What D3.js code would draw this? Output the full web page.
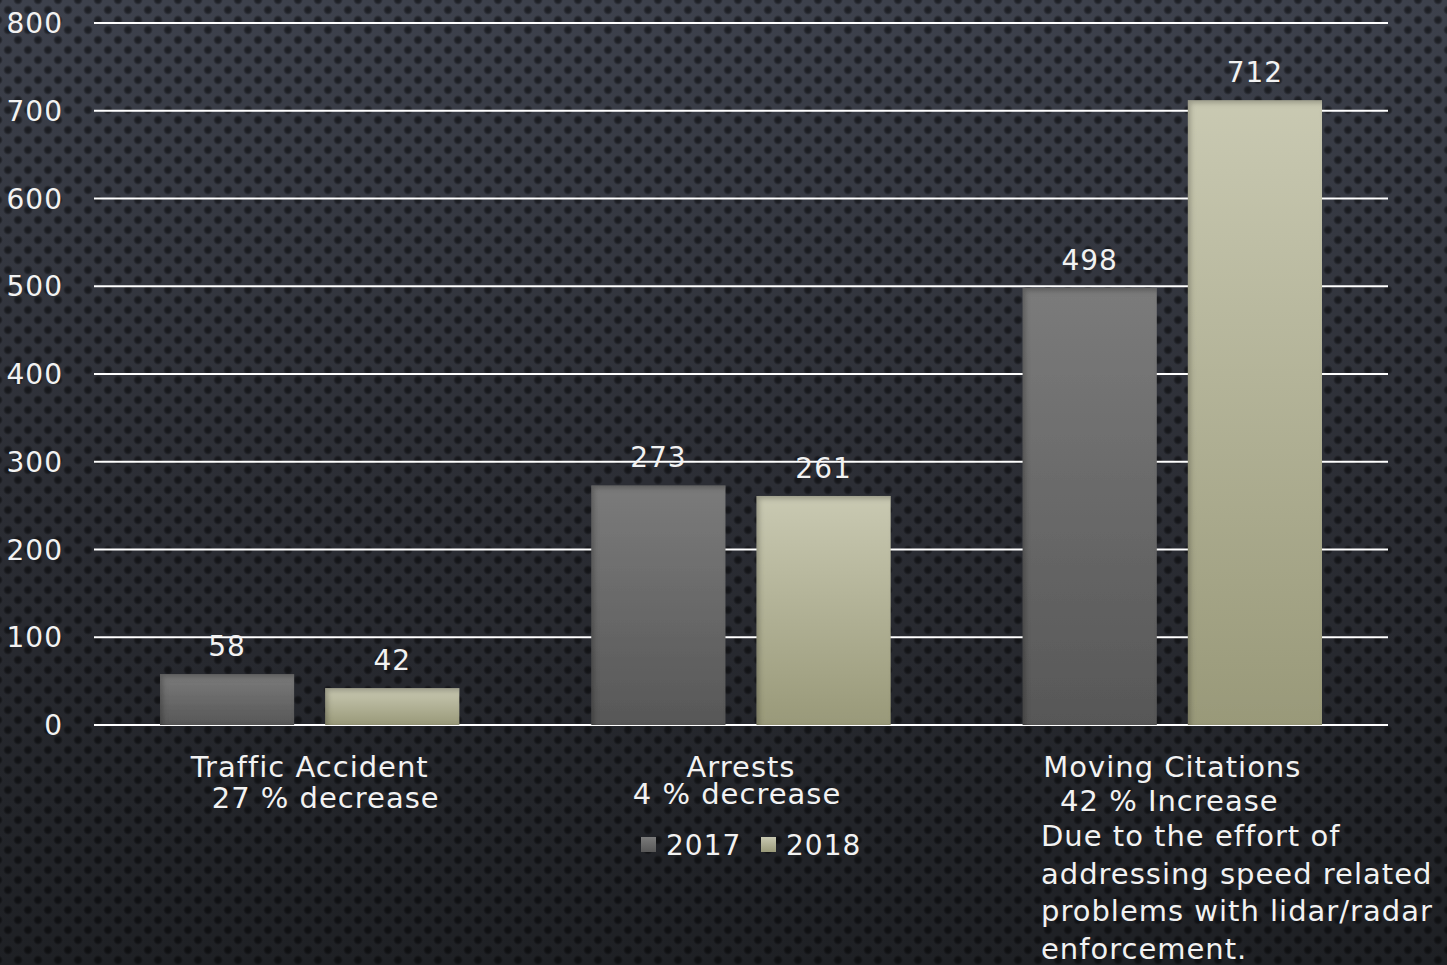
<!DOCTYPE html>
<html>
<head>
<meta charset="utf-8">
<script src="https://cdn.jsdelivr.net/npm/d3@7"></script>
<style>
  html, body { margin: 0; padding: 0; background: #26282e; }
  svg { display: block; }
  text { font-family: "DejaVu Sans", sans-serif; fill: #f2f2f2; letter-spacing: 1px; }
</style>
</head>
<body>
<div id="chart"></div>
<script>
// Chart data
const categories = ["Traffic Accident", "Arrests", "Moving Citations"];
const years = ["2017", "2018"];
const values2017 = [58, 273, 498];
const values2018 = [42, 261, 712];
const subLabels = ["27 % decrease", "4 % decrease", "42 % Increase"];
const noteLines = ["Due to the effort of", "addressing speed related", "problems with lidar/radar", "enforcement."];
const yTicks = [0, 100, 200, 300, 400, 500, 600, 700, 800];

const width = 1447, height = 965;
const plot = { left: 94, right: 1388, top: 23, bottom: 725 };

const svg = d3.select("#chart").append("svg")
    .attr("width", width)
    .attr("height", height);

const defs = svg.append("defs");

// background gradient + perforated dot pattern
const bg = defs.append("linearGradient").attr("id", "bg").attr("x1", 0).attr("y1", 0).attr("x2", 0).attr("y2", 1);
bg.append("stop").attr("offset", "0%").attr("stop-color", "#3d414c");
bg.append("stop").attr("offset", "50%").attr("stop-color", "#2c2e35");
bg.append("stop").attr("offset", "100%").attr("stop-color", "#1e2024");

const dotGrad = defs.append("radialGradient").attr("id", "dotg");
dotGrad.append("stop").attr("offset", "0%").attr("stop-color", "#000").attr("stop-opacity", 0.55);
dotGrad.append("stop").attr("offset", "55%").attr("stop-color", "#000").attr("stop-opacity", 0.45);
dotGrad.append("stop").attr("offset", "100%").attr("stop-color", "#000").attr("stop-opacity", 0);

const pat = defs.append("pattern").attr("id", "dots")
    .attr("width", 20).attr("height", 20)
    .attr("patternUnits", "userSpaceOnUse")
    .attr("x", -2).attr("y", 0);
[[0, 0], [20, 0], [0, 20], [20, 20], [10, 10]].forEach(p => {
    pat.append("circle").attr("cx", p[0]).attr("cy", p[1]).attr("r", 5).attr("fill", "url(#dotg)");
});

svg.append("rect").attr("width", width).attr("height", height).attr("fill", "url(#bg)");
svg.append("rect").attr("width", width).attr("height", height).attr("fill", "url(#dots)");

// bar gradients
function barGradient(id, top, bottom) {
    const g = defs.append("linearGradient").attr("id", id).attr("x1", 0).attr("y1", 0).attr("x2", 0).attr("y2", 1);
    g.append("stop").attr("offset", "0%").attr("stop-color", top);
    g.append("stop").attr("offset", "100%").attr("stop-color", bottom);
}
barGradient("g2017", "#7b7b7b", "#575757");
barGradient("g2018", "#c9c9b2", "#999979");

// inner shadow for the bevelled bar look
const f = defs.append("filter").attr("id", "inner").attr("x", "-5%").attr("y", "-5%").attr("width", "110%").attr("height", "110%");
f.append("feOffset").attr("in", "SourceAlpha").attr("dx", 3).attr("dy", 3).attr("result", "off");
f.append("feGaussianBlur").attr("in", "off").attr("stdDeviation", 2.5).attr("result", "blur");
f.append("feComposite").attr("in", "SourceAlpha").attr("in2", "blur").attr("operator", "out").attr("result", "inv");
f.append("feFlood").attr("flood-color", "#000").attr("flood-opacity", 0.45);
f.append("feComposite").attr("in2", "inv").attr("operator", "in").attr("result", "shadow");
const merge = f.append("feMerge");
merge.append("feMergeNode").attr("in", "SourceGraphic");
merge.append("feMergeNode").attr("in", "shadow");

const colors = { "2017": "url(#g2017)", "2018": "url(#g2018)" };

// scales
const y = d3.scaleLinear().domain([0, 800]).range([plot.bottom, plot.top]);
const x0 = d3.scaleBand().domain(categories).range([plot.left, plot.right]).padding(0);
const groupPad = x0.bandwidth() * 0.153;
const x1 = d3.scaleBand().domain(years)
    .range([groupPad, x0.bandwidth() - groupPad])
    .paddingInner(0.188);

// gridlines
svg.append("g").selectAll("line").data(yTicks).join("line")
    .attr("x1", plot.left).attr("x2", plot.right)
    .attr("y1", d => y(d)).attr("y2", d => y(d))
    .attr("stroke", "#ffffff").attr("stroke-width", 2);

// y tick labels
svg.append("g").selectAll("text").data(yTicks).join("text")
    .attr("x", 63).attr("y", d => y(d)).attr("dy", "0.36em")
    .attr("text-anchor", "end")
    .style("font-size", "28px")
    .text(d => d);

// bars
const rows = categories.map((c, i) => ({ cat: c, vals: [
    { year: "2017", value: values2017[i] },
    { year: "2018", value: values2018[i] }
]}));

const groups = svg.append("g").selectAll("g").data(rows).join("g")
    .attr("transform", d => `translate(${x0(d.cat)},0)`);

groups.selectAll("rect").data(d => d.vals).join("rect")
    .attr("x", d => x1(d.year))
    .attr("y", d => y(d.value))
    .attr("width", x1.bandwidth())
    .attr("height", d => y(0) - y(d.value))
    .attr("fill", d => colors[d.year])
    .attr("filter", "url(#inner)");

groups.selectAll("text.val").data(d => d.vals).join("text")
    .attr("class", "val")
    .attr("x", d => x1(d.year) + x1.bandwidth() / 2)
    .attr("y", d => y(d.value) - 18)
    .attr("text-anchor", "middle")
    .style("font-size", "28px")
    .text(d => d.value);

// category labels (two lines each)
const subLayout = [{ dx: 16, y: 808 }, { dx: -4, y: 804 }, { dx: -3, y: 811 }];
categories.forEach((c, i) => {
    const cx = x0(c) + x0.bandwidth() / 2;
    svg.append("text").attr("x", cx).attr("y", 777)
        .attr("text-anchor", "middle").style("font-size", "29px").text(c);
    svg.append("text").attr("x", cx + subLayout[i].dx).attr("y", subLayout[i].y)
        .attr("text-anchor", "middle").style("font-size", "29px").text(subLabels[i]);
});

// note under Moving Citations
svg.append("g").selectAll("text").data(noteLines).join("text")
    .attr("x", 1041)
    .attr("y", (d, i) => 846 + i * 37.5)
    .style("font-size", "29px")
    .text(d => d);

// legend
const legend = svg.append("g").selectAll("g").data(years).join("g")
    .attr("transform", (d, i) => `translate(${641 + i * 120}, 837)`);
legend.append("rect").attr("width", 15).attr("height", 15)
    .attr("fill", d => colors[d]);
legend.append("text").attr("x", 25).attr("y", 18)
    .style("font-size", "28px").text(d => d);
</script>
</body>
</html>
